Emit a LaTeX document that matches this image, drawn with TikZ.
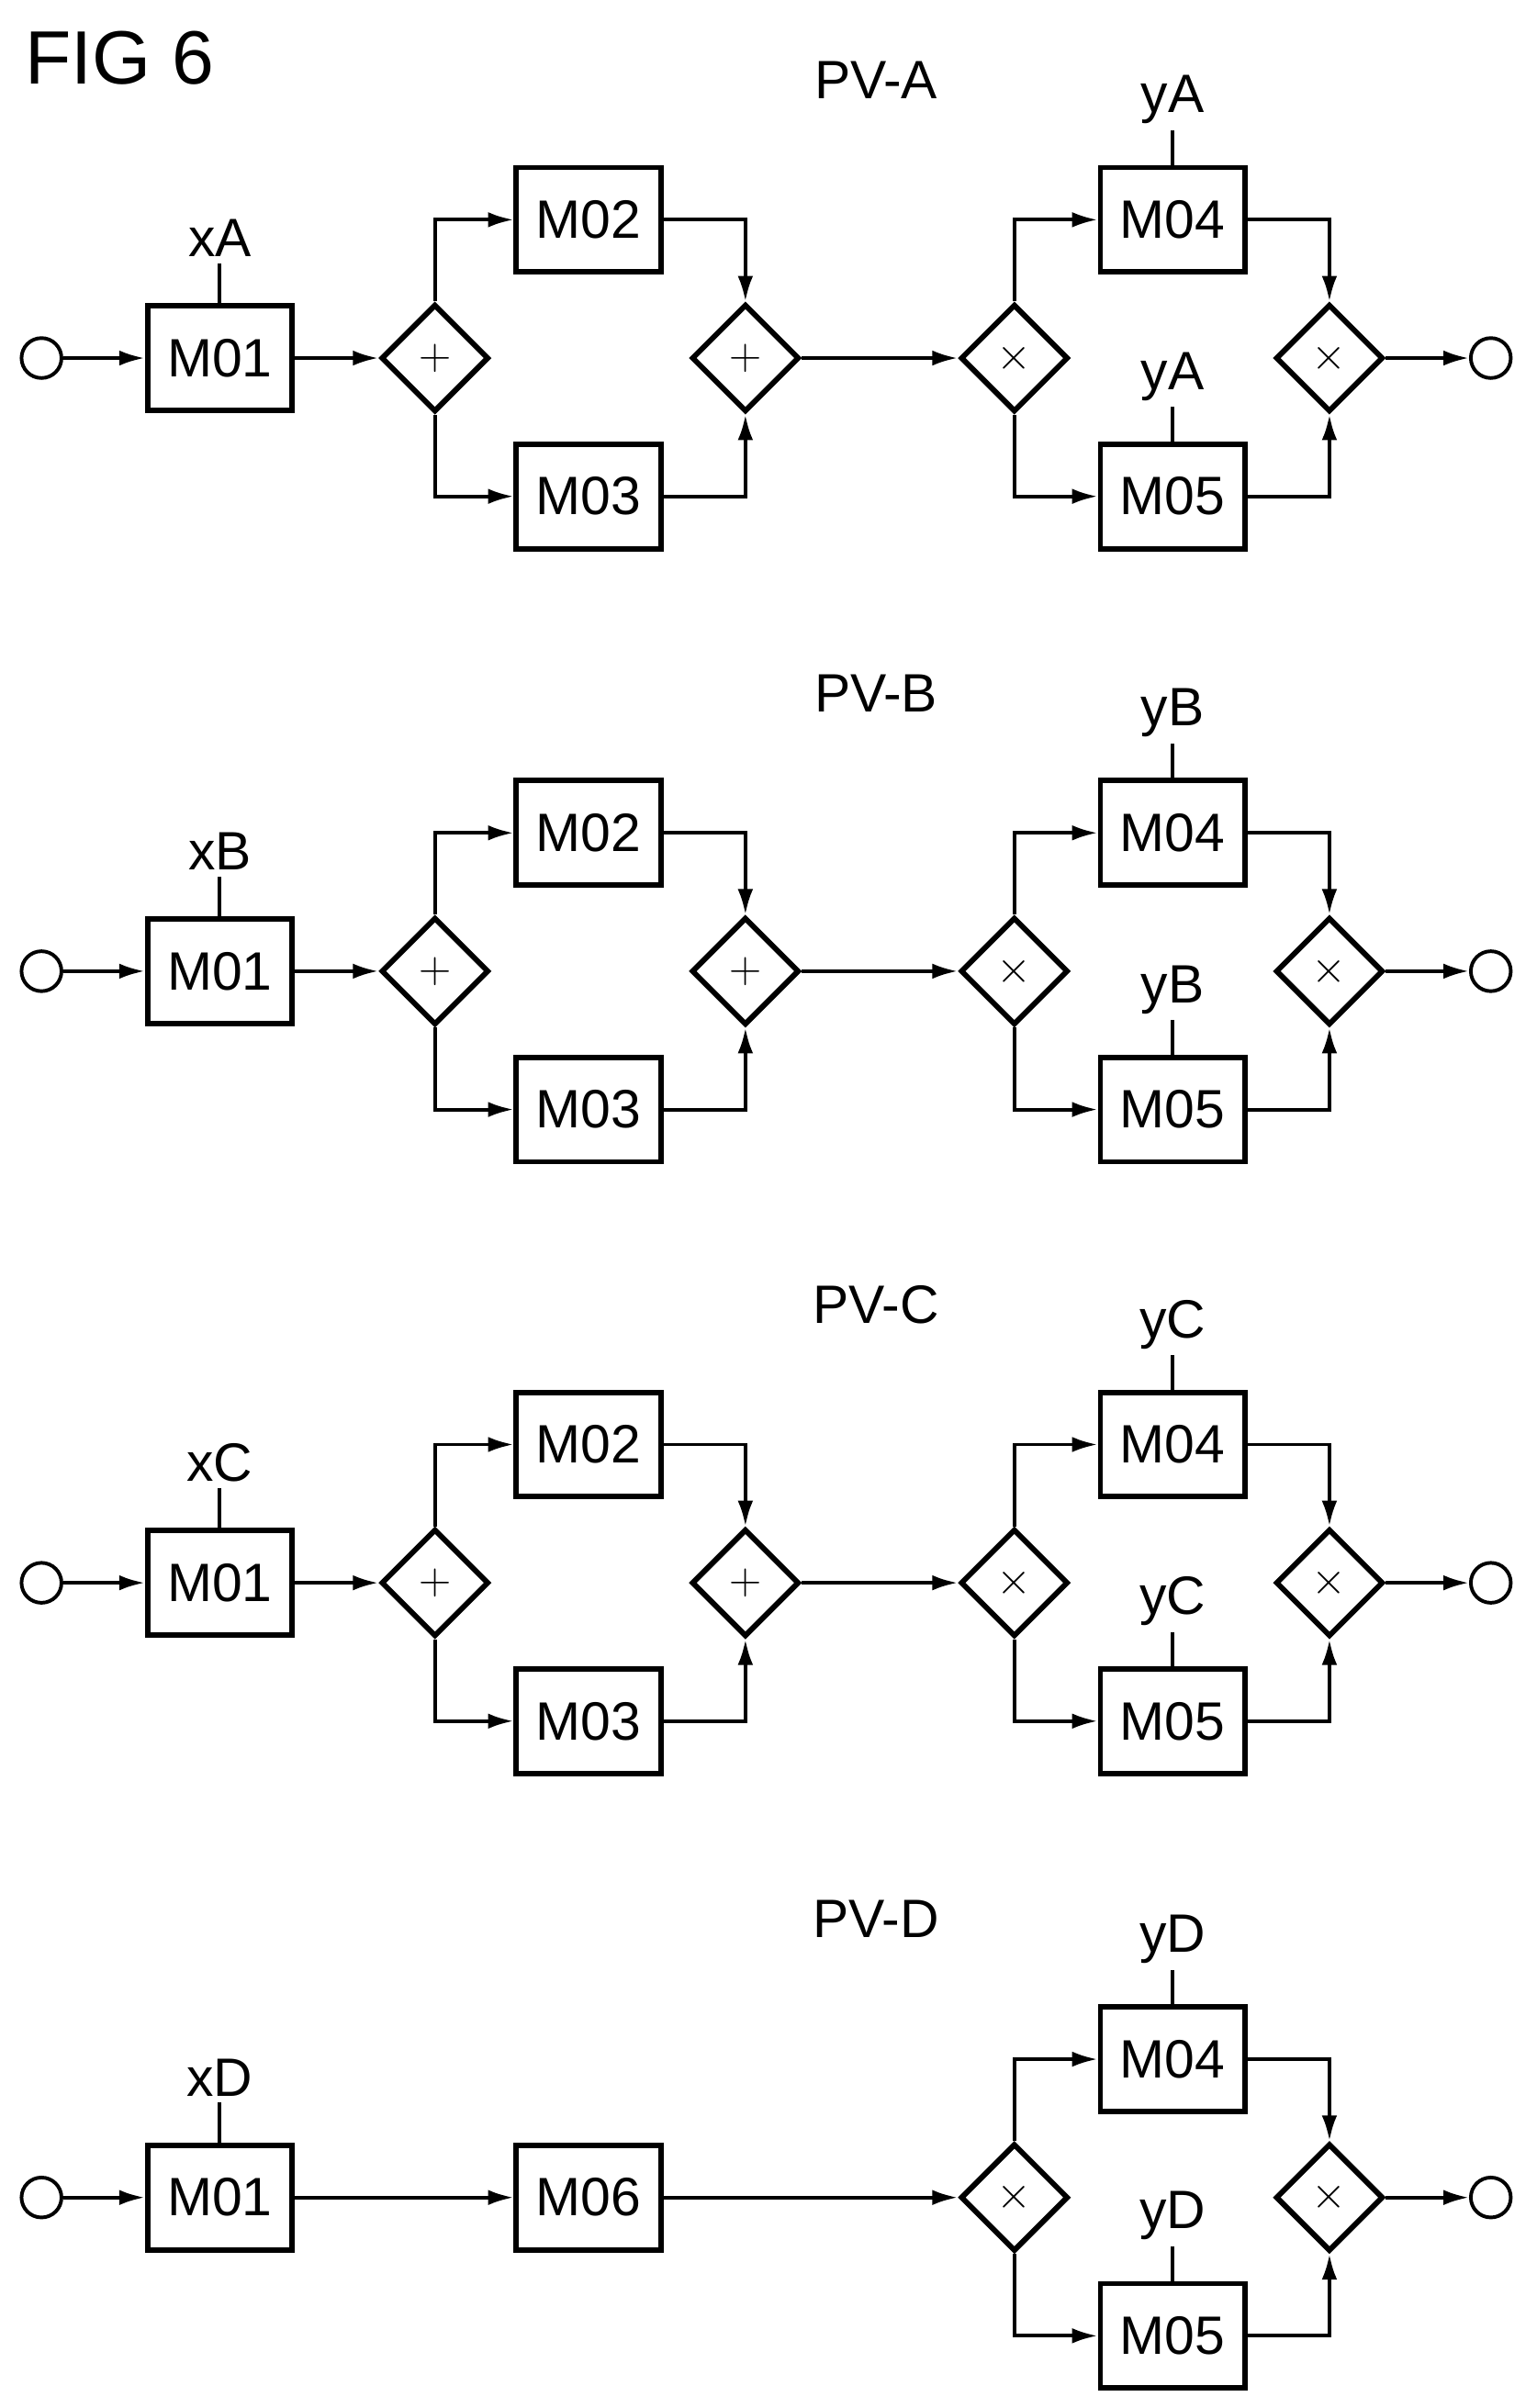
\documentclass[tikz,border=0pt]{standalone}
\usepackage{fontspec}
\setmainfont{Liberation Sans}
\usetikzlibrary{shapes.geometric,arrows.meta}
\begin{document}
\begin{tikzpicture}[x=0.03cm,y=-0.03cm,
  every node/.style={font=\fontsize{30}{34}\selectfont},
  box/.style={draw,line width=3pt,minimum width=2.82cm,minimum height=2.04cm,inner sep=0},
  gw/.style={draw,diamond,line width=3pt,minimum width=2.1cm,minimum height=2.1cm,inner sep=0},
  ev/.style={draw,circle,line width=2pt,minimum size=0.78cm,inner sep=0},
  ln/.style={line width=2pt},
  ar/.style={line width=2pt,-{Latex[length=0.5cm,width=0.3cm]}}]
\useasboundingbox (0,0) rectangle (1000,1567);
\node[anchor=west,font=\fontsize{42}{46}\selectfont] (fig) at (12,38) {FIG 6};
\foreach \r/\y/\L in {A/233/A,B/632/B,C/1030/C,D/1430/D}{
  \node (pv\r) at (570,\y-181) {PV-\L};
  \node[ev] (s\r) at (27,\y) {};
  \node[box] (m01\r) at (143,\y) {M01};
  \node (x\r) at (143,\y-78) {x\L};
  \draw[ln] (m01\r.north) -- (x\r.south);
  \node[gw] (d3\r) at (660,\y) {$\times$};
  \node[box] (m04\r) at (763,\y-90) {M04};
  \node[box] (m05\r) at (763,\y+90) {M05};
  \node (ya\r) at (763,\y-168) {y\L};
  \node (yb\r) at (763,\y+12) {y\L};
  \draw[ln] (m04\r.north) -- (ya\r.south);
  \draw[ln] (m05\r.north) -- (yb\r.south);
  \node[gw] (d4\r) at (865,\y) {$\times$};
  \node[ev] (e\r) at (970,\y) {};
  \draw[ar] (s\r) -- (m01\r);
  \draw[ar] (d3\r.north) |- (m04\r.west);
  \draw[ar] (d3\r.south) |- (m05\r.west);
  \draw[ar] (m04\r.east) -| (d4\r.north);
  \draw[ar] (m05\r.east) -| (d4\r.south);
  \draw[ar] (d4\r) -- (e\r);
}
\foreach \r/\y in {A/233,B/632,C/1030}{
  \node[gw] (d1\r) at (283,\y) {$+$};
  \node[box] (m02\r) at (383,\y-90) {M02};
  \node[box] (m03\r) at (383,\y+90) {M03};
  \node[gw] (d2\r) at (485,\y) {$+$};
  \draw[ar] (m01\r) -- (d1\r);
  \draw[ar] (d1\r.north) |- (m02\r.west);
  \draw[ar] (d1\r.south) |- (m03\r.west);
  \draw[ar] (m02\r.east) -| (d2\r.north);
  \draw[ar] (m03\r.east) -| (d2\r.south);
  \draw[ar] (d2\r) -- (d3\r);
}
\node[box] (m06D) at (383,1430) {M06};
\draw[ar] (m01D) -- (m06D);
\draw[ar] (m06D) -- (d3D);
\end{tikzpicture}
\end{document}
